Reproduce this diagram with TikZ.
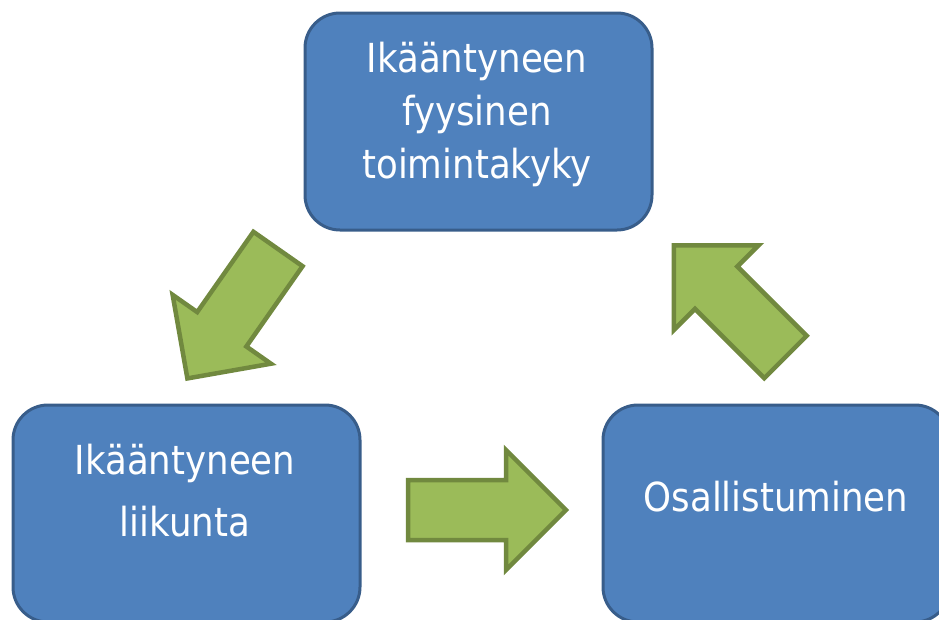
\documentclass[tikz,border=0pt]{standalone}
\usepackage{fontspec}
\setmainfont{DejaVu Sans}[FakeStretch=0.89]
\definecolor{c4f81bd}{RGB}{79,129,189}
\definecolor{c385d8a}{RGB}{56,93,138}
\definecolor{c9bbb59}{RGB}{155,187,89}
\definecolor{c71893f}{RGB}{113,137,63}

% block arrow: tail centre, direction (screen degrees)
\newcommand{\greenarrow}[3]{%
  \path[shift={(#1,#2)},rotate=#3,fill=c9bbb59,draw=c71893f,line join=miter,
    line width=4.5pt] (0,-30) -- (98,-30) -- (98,-60) -- (158,0) -- (98,60) --
    (98,30) -- (0,30) -- cycle;}

\begin{document}
\begin{tikzpicture}[y=1pt, x=1pt, yscale=-1, inner sep=0pt, outer sep=0pt,
  bluebox/.style={draw=c385d8a, fill=c4f81bd, line width=3pt,
    rounded corners=35pt, minimum width=347pt, minimum height=217pt},
  boxtext/.style={text=white, align=center}]
  \useasboundingbox (0,0) rectangle (939,619);
  \clip (0,0) rectangle (939,619);

  % boxes
  \node[bluebox] (kyky) at (478.5,121.5) {};
  \node[bluebox] (liikunta) at (186.5,513.5) {};
  \node[bluebox] (osallistuminen) at (776.5,513.5) {};

  % texts
  \node[boxtext, font=\fontsize{40}{53}\selectfont] (kykytext) at (477,114.5)
    {Ikääntyneen\\fyysinen\\toimintakyky};
  \node[boxtext, font=\fontsize{40}{62}\selectfont] (liikuntatext) at (185,490.8)
    {Ikääntyneen\\liikunta};
  \node[boxtext, font=\fontsize{40}{53}\selectfont] (osallistuminentext)
    at (776,496.8) {Osallistuminen};

  % arrows
  \greenarrow{278}{249}{125}
  \greenarrow{408}{510}{0}
  \greenarrow{785.5}{357}{225}
\end{tikzpicture}
\end{document}
